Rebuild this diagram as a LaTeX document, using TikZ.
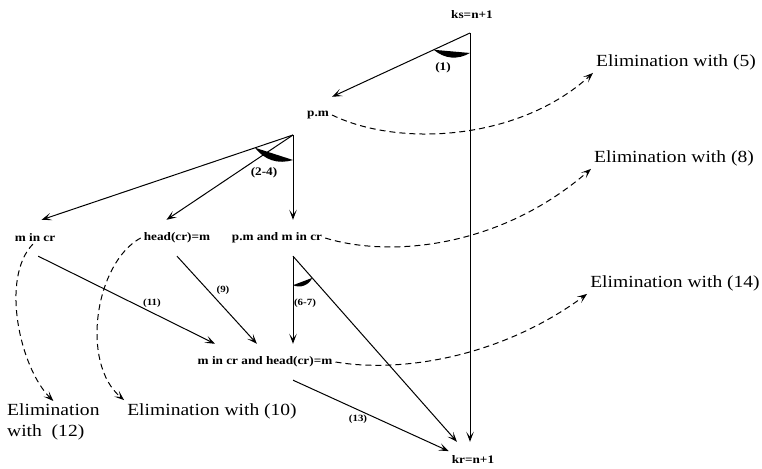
\documentclass[tikz,border=0pt]{standalone}
\usepackage{fontspec}
\setmainfont{Liberation Serif}[FakeStretch=1.15]
\usetikzlibrary{arrows.meta,calc}
\begin{document}
\begin{tikzpicture}[x=1pt,y=1pt,
  state/.style={font=\fontsize{11.5}{13}\selectfont\bfseries, minimum height=36pt, inner sep=3pt},
  elim/.style={font=\fontsize{17}{21}\selectfont, inner sep=3pt},
  tag/.style={font=\fontsize{9.5}{11}\selectfont\bfseries, inner sep=1pt},
  bigtag/.style={font=\fontsize{11.5}{13}\selectfont\bfseries, inner sep=1pt},
  arr/.style={line width=1pt, -{Stealth[length=10pt,width=7.5pt,inset=5pt]}},
  elimarr/.style={arr, dash pattern=on 6pt off 4pt}]
\useasboundingbox (0,0) rectangle (762,468);
\node[state] (ks) at (472,453) {ks=n+1};
\node[state] (pm) at (318,353) {p.m};
\node[state] (mcr) at (35,230) {m in cr};
\node[state] (headcr) at (177,230) {head(cr)=m};
\node[state] (pmmcr) at (277,230) {p.m and m in cr};
\node[state] (mcrhead) at (265,106) {m in cr and head(cr)=m};
\node[state] (kr) at (473,8) {kr=n+1};
\node[elim] (elimfive) at (676,406) {Elimination with (5)};
\node[elim] (elimeight) at (674,310) {Elimination with (8)};
\node[elim] (elimfourteen) at (675,185) {Elimination with (14)};
\node[elim, align=left, anchor=north west] (elimtwelve) at (4,67) {Elimination\\with~~(12)};
\node[elim] (elimten) at (212,57) {Elimination with (10)};
\coordinate (v1) at (470,435);
\coordinate (v2) at (293,333);
\coordinate (v3) at (v2 |- pmmcr.south);
\draw[arr] (v1) -- (pm.north east);
\draw[arr] (v1) -- (v1 |- kr.north);
\draw[arr] (v2) -- (mcr.70);
\draw[arr] (v2) -- (headcr.120);
\draw[arr] (v2) -- (v2 |- pmmcr.north);
\draw[arr] (v3) -- (v3 |- mcrhead.north);
\draw[arr] (v3) -- (kr);
\draw[arr] (mcr.-80) -- (mcrhead.160);
\draw[arr] (headcr.south) -- (mcrhead.114);
\draw[arr] (mcrhead.-33) -- (kr.160);
\draw[elimarr] (pm.east) .. controls (400,320) and (520,328) .. (elimfive.south west);
\draw[elimarr] (pmmcr.east) .. controls (390,210) and (500,220) .. (elimeight.south west);
\draw[elimarr] (mcrhead.east) .. controls (400,95) and (500,110) .. (elimfourteen.south west);
\draw[elimarr, shorten <=3pt] (mcr.base) .. controls (0,190) and (20,100) .. (elimtwelve.north);
\draw[elimarr] (headcr.west) .. controls (95,205) and (80,105) .. (elimten.north west);
\coordinate (a1) at ($(v1)!40pt!(pm.north east)$);
\coordinate (b1) at ($(v1)+(0,-20)$);
\coordinate (a2) at ($(v2)!40pt!(mcr.70)$);
\coordinate (b2) at ($(v2)+(0,-25)$);
\coordinate (a3) at ($(v3)+(0,-29)$);
\coordinate (b3) at ($(v3)!29pt!(kr)$);
\fill (a1) to[bend right=35] (b1) -- cycle;
\fill (a2) to[bend right=35] (b2) -- cycle;
\fill (a3) to[bend right=45] (b3) -- cycle;
\node[bigtag] (l1) at (443,400) {(1)};
\node[bigtag] (l24) at (264,295) {(2-4)};
\node[tag] (l67) at (305,165) {(6-7)};
\node[tag] (l11) at (152,165) {(11)};
\node[tag] (l9) at (223,178) {(9)};
\node[tag] (l13) at (358,49) {(13)};
\end{tikzpicture}
\end{document}
